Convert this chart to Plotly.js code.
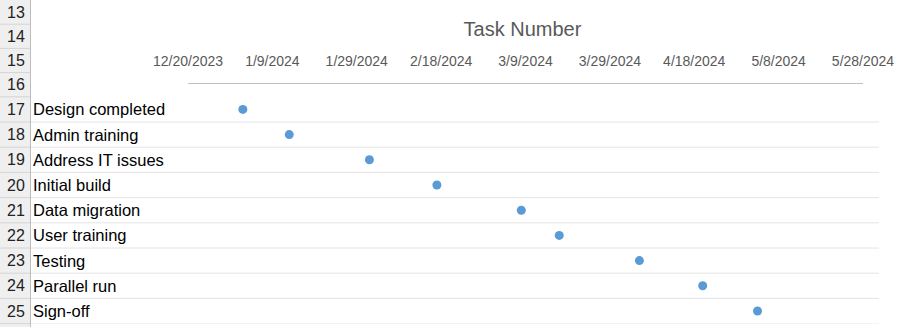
<!DOCTYPE html>
<html>
<head>
<meta charset="utf-8">
<script src="https://cdn.plot.ly/plotly-3.0.1.min.js"></script>
<style>
  html, body { margin: 0; padding: 0; background: #ffffff; }
  #chart { width: 900px; height: 327px; }
</style>
</head>
<body>
<div id="chart"></div>
<script>
// ---- data ----
const taskNames = ["Design completed", "Admin training", "Address IT issues", "Initial build",
  "Data migration", "User training", "Testing", "Parallel run", "Sign-off"];
const taskNumbers = [1, 2, 3, 4, 5, 6, 7, 8, 9];
const taskDates = ["2024-01-02", "2024-01-13", "2024-02-01", "2024-02-17", "2024-03-08",
  "2024-03-17", "2024-04-05", "2024-04-20", "2024-05-03"];
const rowNumbers = [13, 14, 15, 16, 17, 18, 19, 20, 21, 22, 23, 24, 25];
const tickDates = ["2023-12-20", "2024-01-09", "2024-01-29", "2024-02-18", "2024-03-09",
  "2024-03-29", "2024-04-18", "2024-05-08", "2024-05-28"];
const tickLabels = ["12/20/2023", "1/9/2024", "1/29/2024", "2/18/2024", "3/9/2024",
  "3/29/2024", "4/18/2024", "5/8/2024", "5/28/2024"];
const chartTitle = "Task Number";

// ---- layout constants (pixels) ----
const W = 900, H = 327;
const FONT = "Liberation Sans, Arial, sans-serif";
const headerW = 31;
const topRowH = 24.2, rowH = 25.2, firstTaskRow = 17;
const firstTaskTop = (firstTaskRow - rowNumbers[0]) * topRowH;
function rowTop(r) {
  return r <= firstTaskRow ? (r - rowNumbers[0]) * topRowH : firstTaskTop + (r - firstTaskRow) * rowH;
}
const px2x = p => p / W;
const px2y = p => 1 - p / H;
const plotLeft = 188, plotRight = 863;
const yZeroPx = firstTaskTop - rowH / 2;
const yMax = taskNumbers.length + 0.5;
const yBottomPx = yZeroPx + rowH * yMax;

const shapes = [];
const annotations = [];

// row header background
shapes.push({type: "rect", xref: "paper", yref: "paper", x0: 0, x1: px2x(headerW), y0: 0, y1: 1,
  fillcolor: "#efefef", line: {width: 0}, layer: "below"});
shapes.push({type: "line", xref: "paper", yref: "paper", x0: px2x(headerW - 0.5), x1: px2x(headerW - 0.5),
  y0: 0, y1: 1, line: {color: "#bdbdbd", width: 1}});

// row header separators & numbers
rowNumbers.forEach(r => {
  const top = rowTop(r), bot = rowTop(r + 1);
  shapes.push({type: "line", xref: "paper", yref: "paper", x0: 0, x1: px2x(headerW - 1),
    y0: px2y(bot), y1: px2y(bot), line: {color: "#d4d4d4", width: 1}});
  annotations.push({xref: "paper", yref: "paper", x: px2x(headerW / 2), y: px2y((top + bot) / 2),
    text: String(r), showarrow: false, xanchor: "center", yanchor: "middle",
    font: {family: FONT, size: 16, color: "#222222"}});
});

// cell gridlines in task rows
taskNumbers.forEach(t => {
  shapes.push({type: "line", xref: "paper", yref: "y", x0: px2x(headerW), x1: px2x(879),
    y0: t + 0.5, y1: t + 0.5, line: {color: "#e4e4e4", width: 1}, layer: "below"});
});

// task names
taskNames.forEach((name, i) => {
  annotations.push({xref: "paper", yref: "y", x: px2x(31), y: taskNumbers[i], text: name,
    showarrow: false, xanchor: "left", yanchor: "middle",
    font: {family: FONT, size: 16.5, color: "#000000"}});
});

const trace = {
  type: "scatter", mode: "markers",
  x: taskDates, y: taskNumbers,
  marker: {color: "#5b9bd5", size: 9},
  hoverinfo: "x+y"
};

const layout = {
  width: W, height: H,
  margin: {l: 0, r: 0, t: 0, b: 0, pad: 0},
  paper_bgcolor: "#ffffff", plot_bgcolor: "rgba(0,0,0,0)",
  showlegend: false,
  title: {text: chartTitle, xref: "container", yref: "container", x: 522.5 / W, xanchor: "center",
    y: px2y(29), yanchor: "middle", font: {family: FONT, size: 20, color: "#595959"}},
  xaxis: {
    type: "date", side: "top", domain: [px2x(plotLeft), px2x(plotRight)],
    range: [tickDates[0], tickDates[tickDates.length - 1]],
    tickmode: "array", tickvals: tickDates, ticktext: tickLabels,
    tickfont: {family: FONT, size: 14, color: "#595959"},
    ticks: "outside", ticklen: 11, tickcolor: "rgba(0,0,0,0)",
    showline: true, linecolor: "#bfbfbf", linewidth: 1.3,
    showgrid: false, zeroline: false, fixedrange: true
  },
  yaxis: {
    range: [yMax, 0], domain: [px2y(yBottomPx), px2y(yZeroPx)],
    showticklabels: false, showline: false, showgrid: false, zeroline: false, ticks: "",
    fixedrange: true
  },
  shapes: shapes,
  annotations: annotations
};

Plotly.newPlot("chart", [trace], layout, {displayModeBar: false, responsive: false});
</script>
</body>
</html>
